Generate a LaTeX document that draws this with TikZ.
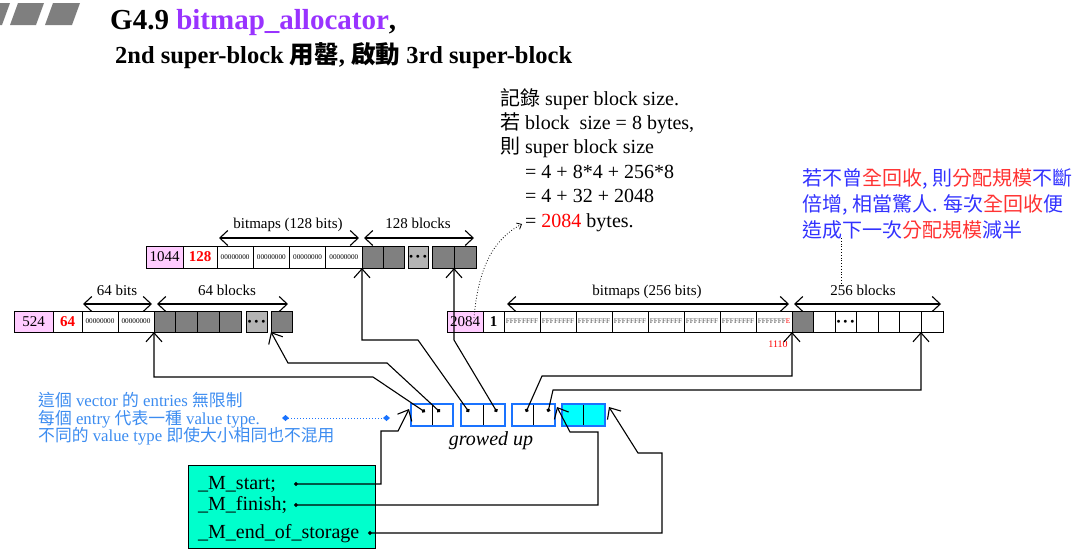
\documentclass[tikz,border=0pt]{standalone}
\usepackage{fontspec}
\setmainfont{Liberation Serif}
\newfontfamily\cjk{Noto Sans CJK TC}
\usetikzlibrary{arrows.meta,calc}
\definecolor{pinkc}{HTML}{FFCCFF}
\definecolor{ttlpurple}{HTML}{9933FF}
\definecolor{blkgray}{HTML}{808080}
\definecolor{dotgray}{HTML}{B4B4B4}
\definecolor{vecblue}{HTML}{1A73FF}
\definecolor{vcyan}{HTML}{00FFFF}
\definecolor{gboxc}{HTML}{00FFCC}
\definecolor{lblue}{HTML}{3C8CF0}
\definecolor{rblue}{HTML}{3333FF}
\definecolor{rred}{HTML}{FF3333}
\definecolor{hdrgray}{HTML}{7F7F7F}
\newcommand{\fsz}[1]{\fontsize{#1}{#1}\selectfont}
\newcommand{\tdots}{{\fsz{7}$\bullet\mkern2mu\bullet\mkern2mu\bullet$}}
\begin{document}
\begin{tikzpicture}[x=1pt,y=-1pt,
  cell/.style={draw=black, line width=1pt, anchor=north west, inner sep=0pt, outer sep=0pt},
  ra/.style={cell, minimum height=22pt},
  rb/.style={cell, minimum height=21pt},
  num/.style={font={\fsz{15}}},
  bits/.style={font={\fsz{7.2}}},
  gblk/.style={fill=blkgray},
  dblk/.style={fill=dotgray},
  dim/.style={draw=black, line width=1.1pt, {Straight Barb[length=8pt,width=15pt]}-{Straight Barb[length=8pt,width=15pt]}},
  lbl/.style={anchor=base, inner sep=0pt, font={\fsz{15}}},
  ptr/.style={draw=black, line width=1.1pt, {Circle[length=3.8pt]}-{Straight Barb[length=9pt,width=16pt]}},
  txt/.style={anchor=base west, inner sep=0pt},
  vc/.style={draw=black, line width=1pt, anchor=north west, inner sep=0pt, outer sep=0pt, minimum height=22pt}
]
\useasboundingbox (0,0) rectangle (1081,558);

% header marks
\fill[hdrgray] (-22,25) -- (2,25) -- (10,3) -- (-14,3) -- cycle;
\fill[hdrgray] (10,25) -- (36,25) -- (44,3) -- (18,3) -- cycle;
\fill[hdrgray] (45,25) -- (72,25) -- (80,3) -- (53,3) -- cycle;

\node[txt, font={\fsz{29}\bfseries}] (title) at (110,29) {G4.9 \textcolor{ttlpurple}{bitmap\_allocator},};
\node[txt, font={\fsz{24.5}\bfseries}] (subtitle) at (115,63.5) {2nd super-block {\cjk 用罄}, {\cjk 啟動} 3rd super-block};

% annotation
\node[txt, font={\fsz{20}}] (a1) at (500,105) {{\cjk 記錄} super block size.};
\node[txt, font={\fsz{20}}] (a2) at (500,129.4) {{\cjk 若} block\ \ size = 8 bytes,};
\node[txt, font={\fsz{20}}] (a3) at (500,153.8) {{\cjk 則} super block size};
\node[txt, font={\fsz{20}}] (a4) at (525,178.2) {= 4 + 8*4 + 256*8};
\node[txt, font={\fsz{20}}] (a5) at (525,202.6) {= 4 + 32 + 2048};
\node[txt, font={\fsz{20}}] (a6) at (525,227) {= \textcolor{red}{2084} bytes.};

% right blue text
\node[txt, font={\fsz{20}\cjk}, text=rblue] (b1) at (802,185) {若不曾\textcolor{rred}{全回收}, 則\textcolor{rred}{分配規模}不斷};
\node[txt, font={\fsz{20}\cjk}, text=rblue] (b2) at (802,211) {倍增, 相當驚人. 每次\textcolor{rred}{全回收}便};
\node[txt, font={\fsz{20}\cjk}, text=rblue] (b3) at (802,237) {造成下一次\textcolor{rred}{分配規模}減半};

% row 1
\node[ra, fill=pinkc, minimum width=37pt, num] (r1n) at (146,246) {1044};
\node[ra, minimum width=34pt, num, text=red, font={\fsz{15}\bfseries}] (r1c) at (183,246) {128};
\foreach \i/\x in {1/217,2/253.25,3/289.5,4/325.75}
  \node[ra, minimum width=36.25pt, bits] (r1b\i) at (\x,246) {00000000};
\node[ra, gblk, minimum width=21pt] (r1g1) at (362,246) {};
\node[ra, gblk, minimum width=21pt] (r1g2) at (383,246) {};
\node[ra, dblk, minimum width=20pt] (r1d) at (408,246) {\tdots};
\node[ra, gblk, minimum width=22pt] (r1g3) at (432,246) {};
\node[ra, gblk, minimum width=22pt] (r1g4) at (454,246) {};
\draw[dim] ([shift={(2,-8)}]r1b1.north west) -- ([shift={(-3,-8)}]r1b4.north east);
\draw[dim] ([shift={(2,-8)}]r1g1.north west) -- ([shift={(-2,-8)}]r1g4.north east);
\node[lbl] (l1a) at (288,228) {bitmaps (128 bits)};
\node[lbl] (l1b) at (418,228) {128 blocks};

% row 2
\node[rb, fill=pinkc, minimum width=39pt, num] (r2n) at (14,311) {524};
\node[rb, minimum width=29pt, num, text=red, font={\fsz{15}\bfseries}] (r2c) at (53,311) {64};
\node[rb, minimum width=36pt, bits] (r2b1) at (82,311) {00000000};
\node[rb, minimum width=36pt, bits] (r2b2) at (118,311) {00000000};
\foreach \i/\x in {1/154,2/175.75,3/197.5,4/219.25}
  \node[rb, gblk, minimum width=21.75pt] (r2g\i) at (\x,311) {};
\node[rb, dblk, minimum width=21pt] (r2d) at (246,311) {\tdots};
\node[rb, gblk, minimum width=21pt] (r2g5) at (271,311) {};
\draw[dim] ([shift={(1,-7)}]r2b1.north west) -- ([shift={(-2,-7)}]r2b2.north east);
\draw[dim] ([shift={(3,-7)}]r2g1.north west) -- ([shift={(-4,-7)}]r2g5.north east);
\node[lbl] (l2a) at (117,295) {64 bits};
\node[lbl] (l2b) at (227,295) {64 blocks};

% row 3
\node[rb, fill=pinkc, minimum width=36pt, num] (r3n) at (447,311) {2084};
\node[rb, minimum width=21pt, num, font={\fsz{15}\bfseries}] (r3c) at (483,311) {1};
\foreach \i in {1,...,7}
  \node[rb, minimum width=36pt, bits, text=black!70] (r3b\i) at ({504+36*(\i-1)},311) {FFFFFFFF};
\node[rb, minimum width=36pt, bits, text=black!70] (r3b8) at (756,311) {FFFFFFF\textcolor{red}{E}};
\node[rb, gblk, minimum width=21pt] (r3g) at (792,311) {};
\node[rb, minimum width=22pt] (r3w1) at (813,311) {};
\node[rb, minimum width=21pt] (r3d) at (835,311) {\tdots};
\node[rb, minimum width=22pt] (r3w2) at (856,311) {};
\node[rb, minimum width=21pt] (r3w3) at (878,311) {};
\node[rb, minimum width=22pt] (r3w4) at (899,311) {};
\node[rb, minimum width=22pt] (r3w5) at (921,311) {};
\draw[dim] ([shift={(3,-7)}]r3b1.north west) -- ([shift={(-3,-7)}]r3b8.north east);
\draw[dim] ([shift={(2,-7)}]r3g.north west) -- ([shift={(-2,-7)}]r3w5.north east);
\node[lbl] (l3a) at (647,295) {bitmaps (256 bits)};
\node[lbl] (l3b) at (863,295) {256 blocks};
\node[font={\fsz{10}}, text=red, inner sep=0pt] (n1110) at (778,344) {1110};

% dotted annotations
\coordinate (q1) at (474,318);
\coordinate (q2) at (522,224);
\draw[dotted, line width=0.8pt, -{Straight Barb[length=4pt,width=7pt]}] (q1) .. controls (478,270) and (492,240) .. (q2);
\coordinate (rd1) at (841,238);
\coordinate (rd2) at (841,283);
\draw[dotted, line width=0.8pt] (rd1) -- (rd2);

% vector
\node[vc, minimum width=21pt] (v1a) at (411,404) {};
\node[vc, minimum width=21pt] (v1b) at (432,404) {};
\node[vc, minimum width=22pt] (v2a) at (461,404) {};
\node[vc, minimum width=22pt] (v2b) at (483,404) {};
\node[vc, minimum width=21pt] (v3a) at (512,404) {};
\node[vc, minimum width=22pt] (v3b) at (533,404) {};
\node[vc, fill=vcyan, minimum width=21pt] (v4a) at (562,404) {};
\node[vc, fill=vcyan, minimum width=22pt] (v4b) at (583,404) {};
\foreach \g in {1,2,3,4}
  \draw[vecblue, line width=2pt] (v\g a.north west) rectangle (v\g b.south east);
\node[anchor=base, inner sep=0pt, font={\fsz{20}\itshape}] (grow) at (491,445) {growed up};

\coordinate (p1) at (425,412);
\coordinate (p2) at (440,412);
\coordinate (p3) at (469,412);
\coordinate (p4) at (497,412);
\coordinate (p5) at (526,412);
\coordinate (p6) at (548,412);
\draw[ptr] (p1) -- (373,377) -| (r2b2.south east);
\draw[ptr] (p2) -- (387,363) -- (288,363) -- (r2g5.south west);
\draw[ptr] (p3) -- (418,340) -| (r1b4.south east);
\draw[ptr] (p4) -- (454,340) -- (r1g3.south east);
\draw[ptr] (p5) -- (542,376) -| (r3g.south west);
\draw[ptr] (p6) -- (553,390) -| (r3w5.south west);

% left blue text
\node[txt, font={\fsz{16.8}}, text=lblue] (c1) at (38,406.5) {{\cjk 這個} vector {\cjk 的} entries {\cjk 無限制}};
\node[txt, font={\fsz{16.8}}, text=lblue] (c2) at (38,424) {{\cjk 每個} entry {\cjk 代表一種} value type.};
\node[txt, font={\fsz{16.8}}, text=lblue] (c3) at (38,441.5) {{\cjk 不同的} value type {\cjk 即使大小相同也不混用}};
\coordinate (bl1) at (282,418);
\coordinate (bl2) at (390,418);
\draw[vecblue, dotted, line width=1pt, {Diamond[length=7pt,width=6pt]}-{Diamond[length=7pt,width=6pt]}] (bl1) -- (bl2);

% green box
\node[draw=black, line width=1pt, fill=gboxc, anchor=north west, inner sep=0pt, minimum width=187pt, minimum height=83pt] (gb) at (188,465) {};
\node[txt, font={\fsz{20}}] (ms) at (198,489) {\_M\_start;};
\node[txt, font={\fsz{20}}] (mf) at (198,510) {\_M\_finish;};
\node[txt, font={\fsz{20}}] (me) at (198,538) {\_M\_end\_of\_storage};
\coordinate (ds) at (294,484);
\coordinate (df) at (294,505);
\coordinate (de) at (368,533);
\draw[ptr] (ds) -- (381,484) -- (381,431) -- (398,431) -- ([shift={(-2,-6)}]v1a.west);
\draw[ptr] (df) -- (598,505) -- (598,432) -- (570,432) -- ([shift={(2,-8)}]v3b.east);
\draw[ptr] (de) -- (662,533) -- (662,453) -- (638,453) -- ([shift={(4,-8)}]v4b.east);
\end{tikzpicture}
\end{document}
